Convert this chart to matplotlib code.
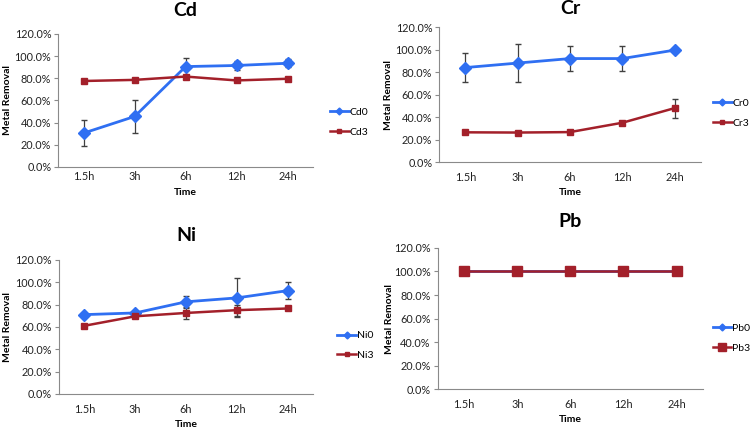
import matplotlib
matplotlib.use('Agg')
import matplotlib.pyplot as plt
from matplotlib.lines import Line2D
from matplotlib.ticker import PercentFormatter

plt.rcParams['font.family'] = ['Lato', 'DejaVu Sans']

times = ['1.5h', '3h', '6h', '12h', '24h']

cd0 = [30.5, 45.5, 90.5, 91.5, 93.5]
cd0_err = [11.5, 15.0, 7.5, 4.0, 3.5]
cd3 = [77.5, 78.5, 81.5, 78.0, 79.5]
cd3_err = [0, 0, 0, 0, 0]

cr0 = [84.0, 88.0, 92.0, 92.0, 99.5]
cr0_err = [12.5, 16.5, 11.0, 11.0, 0]
cr3 = [26.5, 26.3, 26.7, 35.0, 48.0]
cr3_err = [0, 0, 0, 0, 8.5]

ni0 = [71.0, 72.5, 82.5, 86.0, 92.5]
ni0_err = [0, 1.0, 5.5, 17.5, 7.5]
ni3 = [61.0, 69.5, 72.5, 75.0, 76.5]
ni3_err = [0, 0, 5.5, 5.0, 0]

pb0 = [100.0, 100.0, 100.0, 100.0, 100.0]
pb0_err = [0, 0, 0, 0, 0]
pb3 = [100.0, 100.0, 100.0, 100.0, 100.0]
pb3_err = [0, 0, 0, 0, 0]

BLUE = '#2f6ff2'
RED = '#a3202a'
GRID = '#8a8a8a'

# name, axes rect, data, legend anchor, marker sizes, title y, x tick pad, ylabel x
panels = [
    ('Cd', [0.077, 0.611, 0.337, 0.310], cd0, cd0_err, cd3, cd3_err, (1.05, 0.335), 6, 4, 0.975, 3, -0.18),
    ('Cr', [0.581, 0.622, 0.346, 0.315], cr0, cr0_err, cr3, cr3_err, (1.03, 0.363), 6, 4, 0.980, 7, -0.175),
    ('Ni', [0.078, 0.082, 0.336, 0.312], ni0, ni0_err, ni3, ni3_err, (1.08, 0.36), 6, 4, 0.450, 7, -0.185),
    ('Pb', [0.579, 0.093, 0.351, 0.329], pb0, pb0_err, pb3, pb3_err, (1.02, 0.36), 4, 7.5, 0.483, 7, -0.165),
]

fig = plt.figure(figsize=(7.56, 4.29), dpi=100)

for name, rect, s0, e0, s3, e3, leg_pos, ms0, ms3, ty, xpad, ylx in panels:
    ax = fig.add_axes(rect)
    x = list(range(len(times)))
    ax.errorbar(x, s0, yerr=e0, color=BLUE, marker='D', ms=ms0, lw=2,
                ecolor='#404040', elinewidth=0.9, capsize=2.5, zorder=3)
    ax.errorbar(x, s3, yerr=e3, color=RED, marker='s', ms=ms3, lw=1.8,
                ecolor='#404040', elinewidth=0.9, capsize=2.5, zorder=3)

    ax.set_xlim(-0.5, len(times) - 0.5)
    ax.set_ylim(0, 120)
    ax.set_yticks([0, 20, 40, 60, 80, 100, 120])
    ax.yaxis.set_major_formatter(PercentFormatter(decimals=1))
    ax.set_xticks(x)
    ax.set_xticklabels(times)
    ax.tick_params(axis='both', labelsize=7.8, colors='#222222')
    ax.tick_params(axis='x', length=0, pad=xpad)
    ax.tick_params(axis='y', length=3, color=GRID, pad=2)

    for side in ['top', 'right']:
        ax.spines[side].set_visible(False)
    ax.spines['left'].set_color(GRID)
    ax.spines['bottom'].set_color(GRID)

    cx = rect[0] + rect[2] / 2
    fig.text(cx, ty, name, fontsize=14, fontweight='bold', ha='center', va='center')
    ax.set_xlabel('Time', fontsize=7.5, fontweight='bold', labelpad=4)
    ax.set_ylabel('Metal Removal', fontsize=7.5, fontweight='bold')
    ax.yaxis.set_label_coords(ylx, 0.5)

    handles = [
        Line2D([], [], color=BLUE, lw=2, marker='D', ms=3.5),
        Line2D([], [], color=RED, lw=1.8, marker='s', ms=6 if name == 'Pb' else 3.5),
    ]
    ax.legend(handles, [name + '0', name + '3'], loc='center left', bbox_to_anchor=leg_pos,
              frameon=False, fontsize=7.5, handlelength=1.8, handletextpad=0.1,
              labelspacing=1.0, borderaxespad=0)

fig.savefig('out.png', dpi=100)
